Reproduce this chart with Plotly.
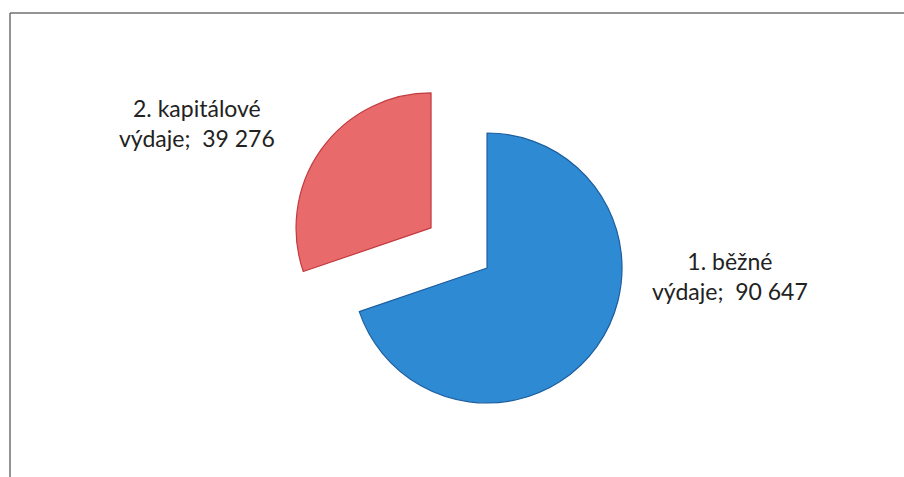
import plotly.graph_objects as go

categories = ["1. běžné výdaje", "2. kapitálové výdaje"]
label_line1 = ["1. běžné", "2. kapitálové"]
label_line2 = ["výdaje;", "výdaje;"]
values = [90647, 39276]
colors = ["#2f8ad4", "#e96a6a"]
edge_colors = ["#1d5e9e", "#c23a40"]
pulls = [0, 0.51]

W, H = 904, 477

fig = go.Figure()
fig.add_trace(go.Pie(
    labels=categories,
    values=values,
    sort=False,
    direction="clockwise",
    rotation=0,
    pull=pulls,
    marker=dict(colors=colors, line=dict(color=edge_colors, width=1.2)),
    textinfo="none",
    hoverinfo="label+value",
    showlegend=False,
    domain=dict(x=[0.3132, 0.7643], y=[0.0108, 0.8655]),
))

def fmt(v):
    return f"{v:,}".replace(",", " ")

label_pos = [(730, 276), (197, 123)]
for i in range(len(values)):
    x, y = label_pos[i]
    fig.add_annotation(
        x=x / W, y=1 - y / H, xref="paper", yref="paper",
        text=f"{label_line1[i]}<br>{label_line2[i]}\u00a0\u00a0{fmt(values[i])}",
        showarrow=False, align="center",
        font=dict(family="Lato, Open Sans, sans-serif", size=23, color="#222222"),
        xanchor="center", yanchor="middle",
    )

# chart frame (top and left edges visible)
fig.add_shape(type="line", xref="paper", yref="paper",
              x0=10 / W, x1=1.0, y0=1 - 13 / H, y1=1 - 13 / H,
              line=dict(color="#707070", width=1.5))
fig.add_shape(type="line", xref="paper", yref="paper",
              x0=10 / W, x1=10 / W, y0=1 - 13 / H, y1=0,
              line=dict(color="#707070", width=1.5))

fig.update_layout(
    width=W, height=H,
    margin=dict(l=0, r=0, t=0, b=0),
    paper_bgcolor="white",
    plot_bgcolor="white",
)

fig.write_html("out.html", config={"displayModeBar": False},
               post_script="document.body.style.margin='0';document.body.style.overflow='hidden';")
